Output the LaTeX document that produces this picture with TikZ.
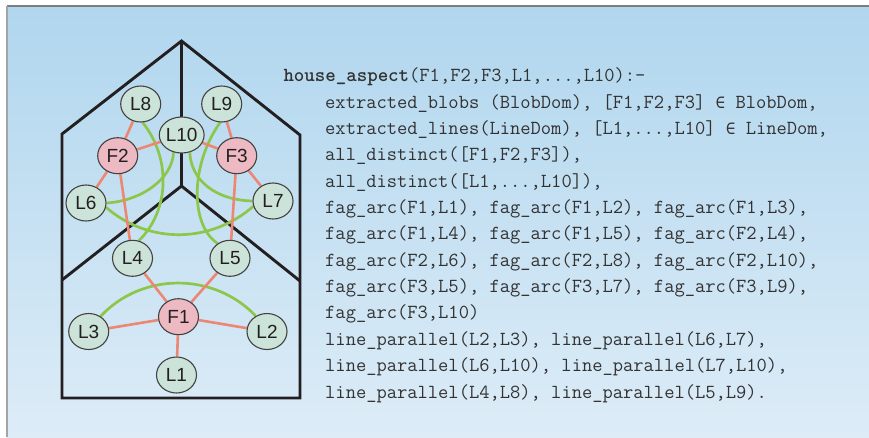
\documentclass[tikz,border=0pt]{standalone}
\usepackage{fontspec}
\setmainfont{Liberation Sans}
\newfontfamily\symfont{DejaVu Sans Mono}
\usetikzlibrary{shapes.geometric}

\definecolor{bgtop}{RGB}{176,214,238}
\definecolor{bgbot}{RGB}{221,236,247}
\definecolor{framegray}{RGB}{125,125,125}
\definecolor{linefill}{RGB}{204,227,218}
\definecolor{blobfill}{RGB}{237,186,196}
\definecolor{fagred}{RGB}{238,134,116}
\definecolor{pargreen}{RGB}{140,198,75}
\definecolor{ink}{RGB}{35,31,32}
\definecolor{codeink}{RGB}{50,50,50}

\pgfdeclarelayer{back}
\pgfdeclarelayer{edges}
\pgfsetlayers{back,edges,main}

\newcommand{\elem}{{\symfont\fontsize{16}{16}\selectfont ∈}}

\tikzset{
  linenode/.style={ellipse, draw=ink!85, line width=1.1pt, fill=linefill,
    minimum width=40pt, minimum height=36pt, inner sep=0pt,
    font=\fontsize{19}{19}\selectfont, text=ink},
  blobnode/.style={linenode, fill=blobfill},
  fagarc/.style={draw=fagred, line width=2.6pt},
  parallel/.style={draw=pargreen, line width=2.7pt},
  housewall/.style={draw=ink, line width=2.9pt, line join=miter},
  codeline/.style={anchor=base west, inner sep=0pt, text=codeink,
    font=\ttfamily\fontsize{19.95}{19.95}\selectfont\frenchspacing}
}

\begin{document}
\begin{tikzpicture}[x=1pt,y=-1pt]
\useasboundingbox (0,0) rectangle (869,437);

% panel background and frame
\begin{pgfonlayer}{back}
  \shade[top color=bgtop, bottom color=bgbot] (7,6) rectangle (869,437);
  \draw[framegray, line width=2pt] (7,6) -- (869,6);
  \draw[framegray!70, line width=1.2pt] (7,6) -- (7,437);

  % house outline with the three visible faces
  \draw[housewall] (62,398) -- (62,134) -- (181.5,41) -- (300,135) -- (300,398) -- cycle;
  \draw[housewall] (181.5,41) -- (181.5,186);
  \draw[housewall] (62,280) -- (181.5,186) -- (300,281);
\end{pgfonlayer}

% line segments (green) and blobs (red)
\node[linenode] (L8)  at (140.7,104)   {L8};
\node[linenode] (L9)  at (221.7,104)   {L9};
\node[linenode] (L10) at (181.7,135)   {L10};
\node[blobnode] (F2)  at (117.7,155.7) {F2};
\node[blobnode] (F3)  at (236.7,155.7) {F3};
\node[linenode] (L6)  at (86,203)      {L6};
\node[linenode] (L7)  at (273,201)     {L7};
\node[linenode] (L4)  at (132.5,258.3) {L4};
\node[linenode] (L5)  at (230,258.3)   {L5};
\node[blobnode] (F1)  at (178.5,316.7) {F1};
\node[linenode] (L3)  at (88.7,331.5)  {L3};
\node[linenode] (L2)  at (267,331.5)   {L2};
\node[linenode] (L1)  at (176.5,375)   {L1};

\begin{pgfonlayer}{edges}
  % parallel-line relations
  \draw[parallel] (L3.52) .. controls (142,272) and (214,272) .. (L2.126);
  \draw[parallel] (L6.-12) .. controls (148,244) and (210,244) .. (L7.-165);
  \draw[parallel] (L6.east) .. controls (140,201) and (172,180) .. (L10.-115);
  \draw[parallel] (L10.-65) .. controls (191,180) and (215,200) .. (L7.west);
  \draw[parallel] (L8.-84) .. controls (171,158) and (170,210) .. (L4.70);
  \draw[parallel] (L9.-95) .. controls (190,165) and (190,225) .. (L5.130);

  % figure-ground arcs
  \draw[fagarc] (F1) -- (L1);
  \draw[fagarc] (F1) -- (L2);
  \draw[fagarc] (F1) -- (L3);
  \draw[fagarc] (F1) -- (L4);
  \draw[fagarc] (F1) -- (L5);
  \draw[fagarc] (F2) -- (L4);
  \draw[fagarc] (F2) -- (L6);
  \draw[fagarc] (F2) -- (L8);
  \draw[fagarc] (F2) -- (L10);
  \draw[fagarc] (F3) -- (L5);
  \draw[fagarc] (F3) -- (L7);
  \draw[fagarc] (F3) -- (L9);
  \draw[fagarc] (F3) -- (L10);
\end{pgfonlayer}

% the rule
\node[codeline] (c0)  at (283.3,81.7)  {\textbf{house\_aspect}(F1,F2,F3,L1,...,L10):-};
\node[codeline] (c1)  at (325,108.1)   {extracted\_blobs (BlobDom), [F1,F2,F3] \elem{} BlobDom,};
\node[codeline] (c2)  at (325,134.4)   {extracted\_lines(LineDom), [L1,...,L10] \elem{} LineDom,};
\node[codeline] (c3)  at (325,160.8)   {all\_distinct([F1,F2,F3]),};
\node[codeline] (c4)  at (325,187.1)   {all\_distinct([L1,...,L10]),};
\node[codeline] (c5)  at (325,213.5)   {fag\_arc(F1,L1), fag\_arc(F1,L2), fag\_arc(F1,L3),};
\node[codeline] (c6)  at (325,239.9)   {fag\_arc(F1,L4), fag\_arc(F1,L5), fag\_arc(F2,L4),};
\node[codeline] (c7)  at (325,266.2)   {fag\_arc(F2,L6), fag\_arc(F2,L8), fag\_arc(F2,L10),};
\node[codeline] (c8)  at (325,292.6)   {fag\_arc(F3,L5), fag\_arc(F3,L7), fag\_arc(F3,L9),};
\node[codeline] (c9)  at (325,318.9)   {fag\_arc(F3,L10)};
\node[codeline] (c10) at (325,345.3)   {line\_parallel(L2,L3), line\_parallel(L6,L7),};
\node[codeline] (c11) at (325,371.6)   {line\_parallel(L6,L10), line\_parallel(L7,L10),};
\node[codeline] (c12) at (325,398)     {line\_parallel(L4,L8), line\_parallel(L5,L9).};
\end{tikzpicture}
\end{document}
